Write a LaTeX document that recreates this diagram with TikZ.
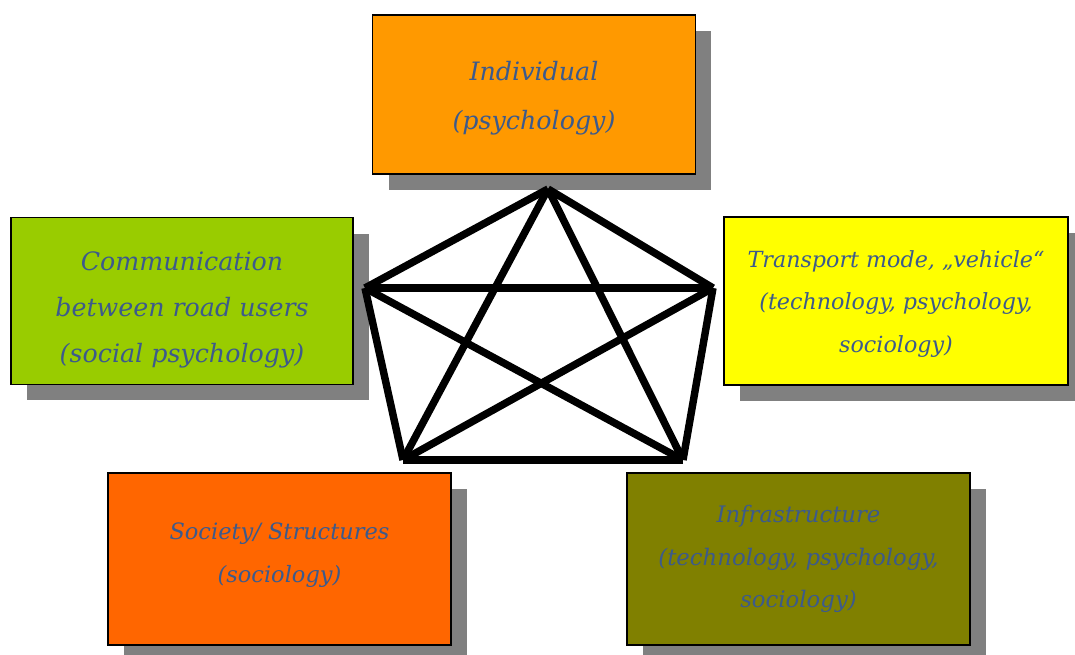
\documentclass[tikz,border=0pt]{standalone}
\usepackage{fontspec}
\setmainfont{DejaVu Serif}
\usetikzlibrary{shadows}
\usetikzlibrary{calc}

\definecolor{txtblue}{RGB}{60,90,140}
\definecolor{indivorange}{RGB}{255,153,0}
\definecolor{commgreen}{RGB}{153,204,0}
\definecolor{vehyellow}{RGB}{255,255,0}
\definecolor{socorange}{RGB}{255,102,0}
\definecolor{infraolive}{RGB}{128,128,0}

\begin{document}
\begin{tikzpicture}[x=0.025cm,y=-0.025cm,
   area/.style={draw=black,line width=1.2pt,
      drop shadow={shadow xshift=0.4cm,shadow yshift=-0.4cm,fill=black!50,opacity=1}},
   areatext/.style={align=center,text=txtblue},
   link/.style={line width=5.3pt}]

\clip (0,0) rectangle (1075,655);

\node[area,fill=indivorange,minimum width=8.07cm,minimum height=3.97cm] (indiv) at (534,94.5) {};
\node[area,fill=commgreen,minimum width=8.55cm,minimum height=4.17cm] (comm) at (182,301) {};
\node[area,fill=vehyellow,minimum width=8.59cm,minimum height=4.2cm] (veh) at (896,301) {};
\node[area,fill=socorange,minimum width=8.57cm,minimum height=4.3cm] (soc) at (279.5,559) {};
\node[area,fill=infraolive,minimum width=8.57cm,minimum height=4.3cm] (infra) at (798.5,559) {};

\node[areatext,font=\itshape\fontsize{18}{35}\selectfont] (indivtxt) at ($(indiv)+(0,4)$)
   {Individual\\(psychology)};
\node[areatext,font=\itshape\fontsize{18}{33}\selectfont] (commtxt) at ($(comm)+(0,9)$)
   {Communication\\between road users\\(social psychology)};
\node[areatext,font=\itshape\fontsize{15.8}{30.5}\selectfont] (vehtxt) at ($(veh)+(0,3)$)
   {Transport mode, „vehicle“\\(technology, psychology,\\sociology)};
\node[areatext,font=\itshape\fontsize{16}{31}\selectfont] (soctxt) at ($(soc)+(0,-4)$)
   {Society/ Structures\\(sociology)};
\node[areatext,font=\itshape\fontsize{16.2}{30}\selectfont] (infratxt) at (infra)
   {Infrastructure\\(technology, psychology,\\sociology)};

\coordinate (p1) at (548,189);
\coordinate (p2) at (713,288);
\coordinate (p3) at (683,460);
\coordinate (p4) at (403,460);
\coordinate (p5) at (365,288);

% every corner joined to every other one
\foreach \i/\j in {1/2,2/3,3/4,4/5,5/1,1/3,3/5,5/2,2/4,4/1}
  {\draw[link] (p\i)--(p\j);}

\end{tikzpicture}
\end{document}
